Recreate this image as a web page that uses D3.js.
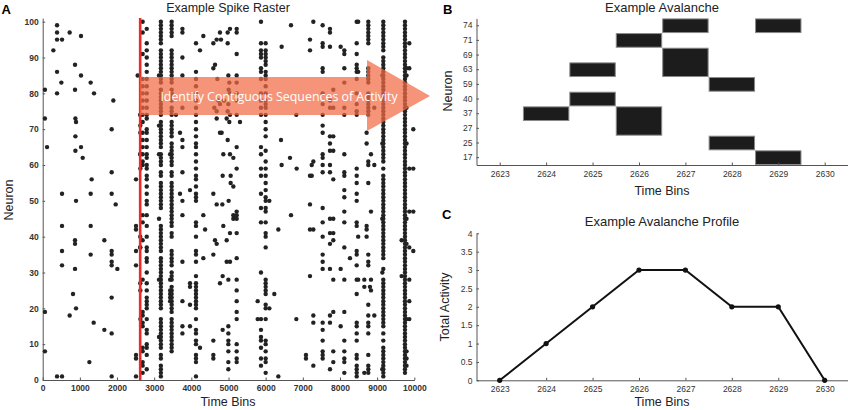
<!DOCTYPE html>
<html>
<head>
<meta charset="utf-8">
<script src="https://cdn.jsdelivr.net/npm/d3@7"></script>
<style>
  body { margin: 0; background: #fff; }
  text { font-family: "Liberation Sans", Arial, sans-serif; }
  .axis path, .axis line { stroke: #555; }
  .axis text { fill: #333; font-size: 8.5px; }
</style>
</head>
<body>
<div id="chart"></div>
<script>
// ---- Panel A: spike raster ----
// lone spikes, [time bin, neuron]
var rasterSingles = [
  [60,81],[60,73],[117,65],[60,19],[60,8],[386,99],[386,97],[386,95],[520,95],[287,92],
  [386,86],[502,83],[386,80],[726,97],[1031,96],[870,88],[1031,85],[870,81],[1291,83],[1381,80],
  [880,73],[897,72],[880,68],[1031,65],[880,64],[1076,62],[1901,78],[1856,70],[2556,85],[1318,56],
  [1856,58],[2511,56],[520,52],[897,50],[1291,52],[1856,52],[1964,49],[520,43],[520,36],[520,32],
  [870,39],[870,38],[870,31],[1291,43],[1291,35],[1659,39],[1856,36],[1856,35],[1856,33],[1856,32],
  [2009,31],[2511,43],[2511,42],[2511,36],[2511,32],[816,24],[897,20],[726,18],[1856,23],[1372,16],
  [1659,14],[1856,13],[1256,5],[2511,7],[2511,6],[386,1],[520,1],[1856,1],[2511,1],
  [3587,74],[3695,69],[3695,52],[3964,27],[3964,26],[3964,21],[3964,15],[3964,53],
  [4233,92],[4233,9],[4323,96],[4323,46],[4323,34],[4370,42],
  [4592,94],[4592,87],[4637,88],[4682,95],[4771,97],[4798,95],[4700,84],[4619,76],[4682,75],[4726,78],
  [4771,77],[4879,78],[5040,98],[4978,97],[4978,94],[4996,85],[5022,83],[5004,81],[5040,80],[4996,77],
  [4978,75],[5040,74],[4682,73],[4771,69],[4816,69],[4951,73],[5022,72],[4978,67],[4861,63],[5040,63],
  [5130,62],[5058,57],[4843,57],[5058,55],[5130,54],[4592,52],[4682,49],[4834,49],[5004,50],[5309,72],
  [4861,43],[5130,46],[5130,45],[5040,41],[4951,39],[4637,39],[4682,38],[4592,35],[4951,33],[5040,33],
  [4771,27],[4843,29],[4996,28],[4843,14],[4996,15],[4996,13],[4996,11],[4996,10],[4996,8],[4996,5],
  [4996,3],[4592,7],[4592,6],[4592,11],
  [5785,22],[5785,17],[6099,50],[6099,20],[6233,24],[6341,1],[6430,93],[6341,42],[6682,99],[6682,46],
  [6413,67],[6655,62],[6430,60],[6825,74],[6825,17],[6834,59],
  [7193,95],[7193,92],[7193,49],[7193,29],[7283,100],[7283,42],[7193,42],[7085,7],[7085,6],[7283,18],
  [7283,16],[7283,4],[7283,61],[7240,60],[7240,57],[7193,57],
  [8018,93],[8018,31],[8018,15],[8269,34],[8655,28],[8655,26],[8655,2],
  [8834,63],[8834,47],[8834,28],[8834,25],[8807,26],[8924,76],[8924,60],[8924,18],
  [9659,39],[9659,29]
];

// columns of activity, [time bin, [neurons]]
var rasterColumns = [
  [2690, [100,97,91,84,82,80,78,76,74,72,69,67,65,63,61,60,46,44,39,28,19,18,16,15,9,8,5,4,2]],
  [2800, [98,94,92,90,88,86,84,82,80,78,76,74,73,70,69,67,65,63,62,60,59,57,56,54,52,50,49,46,43,40,
          37,36,34,33,30,27,25,23,22,21,20,17,14,13,10,9,7,3]],
  [3130, [85,71,63,45,28,12]],
  [3180, [100,99,98,97,96,95,94,92,91,90,89,88,87,86,85,84,83,81,80,79,78,77,76,75,74,72,71,70,69,68,
          67,66,65,63,62,61,60,58,57,55,54,53,52,51,50,49,48,43,42,41,40,39,38,37,36,34,33,32,31,30,
          29,28,27,26,25,24,23,22,21,20,17,16,15,14,13,12,11,10,9,7,6,4,3,2,1]],
  [3430, [63,28,25,24,23,22]],
  [3470, [100,99,98,97,96,92,91,90,89,88,87,86,85,84,83,81,80,79,78,76,75,74,72,71,70,69,68,66,65,64,
          63,62,61,60,58,57,55,54,53,52,51,50,49,48,47,46,45,44,43,41,40,36,35,34,33,32,30,29,28,26,
          25,24,23,22,21,20,19,17,16,15,14,13,12,11,10,9,8]],
  [3760, [98,97,90,85,76,67,65,58,50,46,33,22,15,13]],
  [4125, [94,86,84,82,80,78,76,74,72,70,68,66,65,63,61,59,57,56,54,52,51,50,44,43,40,36,35,33,29,27,
          26,25,24,23,22,21,20,17,14,13,11,10,7,6,5,1]],
  [5220, [98,97,91,85,83,80,78,74,65,59,47,46,45,41,34,28,25,22,19,17,10,8,6,5]],
  [5874, [100,94,92,91,90,87,86,84,80,78,76,74,65,63,59,57,52,48,44,30,17,14,12,11,9,6,4]],
  [6000, [94,92,91,90,89,88,86,85,84,82,80,78,77,76,74,72,70,68,64,61,59,57,55,53,51,50,48,47,44,41,
          40,37,28,27,26,25,24,21,20,17,11,10,8,6,5,2]],
  [7534, [99,94,93,87,86,80,77,74,71,69,63,62,60,58,48,44,40,35,33,31,16,14,11,8,7,6]],
  [7731, [98,97,93,78,76,68,66,64,60,58,45,41,38,31,18,16,3]],
  [7820, [81,76,68,64,56,45,41,39,28,19,8,5]],
  [8117, [92,91,87,83,76,74,63,58,57,53,51,47,44,37,28,19,11,8,6,5,2]],
  [8450, [100,94,91,88,87,86,84,80,77,75,74,59,57,55,52,50,44,43,36,35,32,28,24,16,15,13,11,7,6,4,3,2,1]],
  [8490, [100,86,40,28]],
  [8717, [69,66,43,42,40]],
  [8762, [100,99,98,97,96,95,94,87,86,85,84,83,80,79,78,77,76,75,74,61,60,55,35,33,32,21,18,16,15,13,7,4,3,2]],
  [9140, [85,66,45,30,3]],
  [9166, [100,99,98,97,96,95,94,93,92,90,89,88,87,86,85,84,83,82,81,80,79,78,77,76,75,74,73,72,71,70,
          69,68,67,66,65,64,63,62,61,59,57,56,55,54,53,52,51,50,49,48,47,46,45,44,43,42,41,40,39,38,
          37,36,35,34,31,28,27,26,25,24,23,22,21,20,19,18,17,16,15,13,11,9,8,7,6,5,4,3,2,1]],
  [9749, [100,99,98,97,96,95,94,93,92,91,90,89,88,87,86,85,84,83,82,81,80,79,78,77,76,75,74,73,72,71,
          70,69,68,67,66,65,64,63,62,61,60,59,58,57,56,55,54,53,52,51,50,49,48,47,46,45,44,43,42,41,
          40,39,38,37,36,35,34,33,32,31,30,29,28,27,26,25,24,23,22,21,20,19,18,17,16,15,14,13,12,11,
          10,9,8,7,6,5,4,3,2]],
  [9790, [87,85,76,66,45,38,17,8,6,4]],
  [9865, [94,87,59,47,37,28,22,17]],
  [9973, [70,59,47,36]]
];
var rasterTicksX = [0,1000,2000,3000,4000,5000,6000,7000,8000,9000,10000];
var rasterTicksY = [0,10,20,30,40,50,60,70,80,90,100];
var avalancheStart = 2623;

// ---- Panel B: the avalanche ----
var avalancheBins = [2623,2624,2625,2626,2627,2628,2629,2630];
var avalancheNeurons = ["17","25","27","37","40","59","63","69","71","74"];
// [time bin, neuron]
var avalancheSpikes = [
  [2624,"37"],
  [2625,"63"],[2625,"40"],
  [2626,"71"],[2626,"37"],[2626,"27"],
  [2627,"74"],[2627,"69"],[2627,"63"],
  [2628,"59"],[2628,"25"],
  [2629,"74"],[2629,"17"]
];

// ---- Panel C: avalanche profile ----
var profileActivity = [0,1,2,3,3,2,2,0];
var profileTicksY = [0,0.5,1,1.5,2,2.5,3,3.5,4];

var svg = d3.select("#chart").append("svg")
    .attr("width", 848)
    .attr("height", 410);

function panelLetter(x, y, s) {
  svg.append("text")
      .attr("x", x).attr("y", y)
      .style("font-size", "13px")
      .style("font-weight", "bold")
      .text(s);
}
function label(x, y, s, size, rotate) {
  var t = svg.append("text")
      .attr("text-anchor", "middle")
      .style("font-size", size + "px")
      .style("fill", "#222")
      .text(s);
  if (rotate) {
    t.attr("transform", "translate(" + x + "," + y + ") rotate(-90)");
  } else {
    t.attr("x", x).attr("y", y);
  }
}

// ===== A =====
var xA = d3.scaleLinear().domain([0, 10000]).range([42.7, 414.3]);
var yA = d3.scaleLinear().domain([0, 101]).range([380, 18.1]);

svg.append("g").attr("class", "axis")
    .attr("transform", "translate(0,380)")
    .call(d3.axisBottom(xA).tickValues(rasterTicksX).tickFormat(d3.format("d"))
      .tickSize(-2.5).tickSizeOuter(0).tickPadding(5))
    .selectAll("text").style("font-weight", "bold");
svg.append("g").attr("class", "axis")
    .attr("transform", "translate(42.7,0)")
    .call(d3.axisLeft(yA).tickValues(rasterTicksY).tickSize(-2.5).tickSizeOuter(0).tickPadding(4))
    .selectAll("text").style("font-weight", "bold");

var spikes = rasterSingles.slice();
rasterColumns.forEach(function (c) {
  c[1].forEach(function (n) { spikes.push([c[0], n]); });
});
avalancheSpikes.forEach(function (s) { spikes.push([s[0], +s[1]]); });

svg.append("g").selectAll("circle")
    .data(spikes)
    .enter().append("circle")
    .attr("cx", function (d) { return xA(d[0]); })
    .attr("cy", function (d) { return yA(d[1]); })
    .attr("r", 2.2)
    .attr("fill", "#222");

svg.append("line")
    .attr("x1", xA(avalancheStart)).attr("x2", xA(avalancheStart))
    .attr("y1", 18).attr("y2", 380)
    .attr("stroke", "#ee2a24")
    .attr("stroke-width", 2.6);

// arrow pointing to panel B
svg.append("path")
    .attr("d", "M140,77 L367,77 L367,60 L430,96 L367,131 L367,115 L140,115 Z")
    .attr("fill", "#f26b45")
    .attr("fill-opacity", 0.72);
svg.append("text")
    .attr("x", 279).attr("y", 100.5)
    .attr("text-anchor", "middle")
    .style("font-family", "'Open Sans', sans-serif")
    .style("font-size", "12.4px")
    .style("fill", "#fff")
    .text("Identify Contiguous Sequences of Activity");

panelLetter(1.5, 13.5, "A");
label(228, 11.5, "Example Spike Raster", 12.5);
label(228, 406, "Time Bins", 12.5);
label(13, 200, "Neuron", 12.5, true);

// ===== B =====
var xB = d3.scaleLinear().domain([2622.5, 2630.5]).range([476.5, 847.9]);
var yB = d3.scaleBand().domain(avalancheNeurons).range([165, 18.4]);

// merge neighbouring rows that fire in the same bin into one block
var blocks = [];
avalancheBins.forEach(function (b) {
  var idx = avalancheSpikes.filter(function (s) { return s[0] === b; })
      .map(function (s) { return avalancheNeurons.indexOf(s[1]); })
      .sort(function (p, q) { return p - q; });
  var i = 0;
  while (i < idx.length) {
    var j = i;
    while (j + 1 < idx.length && idx[j + 1] === idx[j] + 1) j++;
    blocks.push({ bin: b, lo: avalancheNeurons[idx[i]], hi: avalancheNeurons[idx[j]] });
    i = j + 1;
  }
});

svg.append("g").selectAll("rect")
    .data(blocks)
    .enter().append("rect")
    .attr("x", function (d) { return xB(d.bin - 0.5) + 0.5; })
    .attr("width", function (d) { return xB(d.bin + 0.5) - xB(d.bin - 0.5) - 1; })
    .attr("y", function (d) { return yB(d.hi) + 0.5; })
    .attr("height", function (d) { return yB(d.lo) + yB.bandwidth() - yB(d.hi) - 1; })
    .attr("fill", "#1c1c1c")
    .attr("stroke", "#8a8a8a")
    .attr("stroke-width", 1);

svg.append("g").attr("class", "axis")
    .attr("transform", "translate(0,165)")
    .call(d3.axisBottom(xB).tickValues(avalancheBins).tickFormat(d3.format("d"))
      .tickSize(-2.5).tickSizeOuter(0).tickPadding(6));
svg.append("g").attr("class", "axis")
    .attr("transform", "translate(476.5,0)")
    .call(d3.axisLeft(yB).tickSize(-2.5).tickSizeOuter(0).tickPadding(4));

panelLetter(443, 13.5, "B");
label(662, 11.5, "Example Avalanche", 13);
label(662, 195, "Time Bins", 12.5);
label(452, 91, "Neuron", 12.5, true);

// ===== C =====
var xC = d3.scaleLinear().domain([2622.5, 2630.5]).range([476.5, 847.9]);
var yC = d3.scaleLinear().domain([0, 4]).range([380.3, 233.3]);

svg.append("g").attr("class", "axis")
    .attr("transform", "translate(0,380.3)")
    .call(d3.axisBottom(xC).tickValues(avalancheBins).tickFormat(d3.format("d"))
      .tickSize(-2.5).tickSizeOuter(0).tickPadding(6));
svg.append("g").attr("class", "axis")
    .attr("transform", "translate(476.5,0)")
    .call(d3.axisLeft(yC).tickValues(profileTicksY).tickFormat(d3.format("")).tickSize(-2.5).tickSizeOuter(0).tickPadding(4));

var line = d3.line()
    .x(function (d, i) { return xC(avalancheBins[i]); })
    .y(function (d) { return yC(d); });

svg.append("path")
    .datum(profileActivity)
    .attr("d", line)
    .attr("fill", "none")
    .attr("stroke", "#111")
    .attr("stroke-width", 2);

svg.append("g").selectAll("circle")
    .data(profileActivity)
    .enter().append("circle")
    .attr("cx", function (d, i) { return xC(avalancheBins[i]); })
    .attr("cy", function (d) { return yC(d); })
    .attr("r", 2.6)
    .attr("fill", "#111");

panelLetter(442, 218.5, "C");
label(662, 226, "Example Avalanche Profile", 13);
label(662, 406, "Time Bins", 12.5);
label(449, 307, "Total Activity", 12.5, true);
</script>
</body>
</html>
